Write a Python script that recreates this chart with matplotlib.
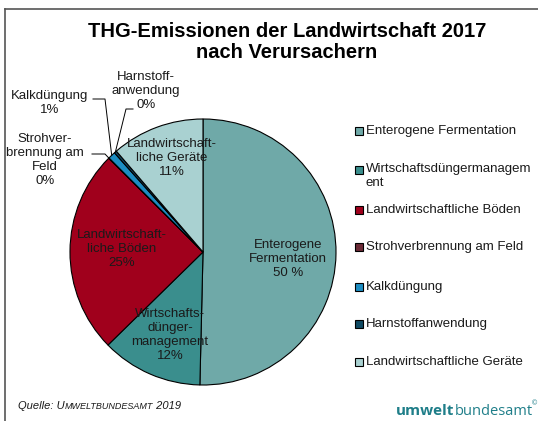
import matplotlib
matplotlib.use("Agg")
import matplotlib.pyplot as plt
from matplotlib.patches import Rectangle
from matplotlib.lines import Line2D
import numpy as np

plt.rcParams['font.family'] = ['Liberation Sans', 'DejaVu Sans']

categories = ["Enterogene Fermentation", "Wirtschaftsdüngermanagement",
              "Landwirtschaftliche Böden", "Strohverbrennung am Feld",
              "Kalkdüngung", "Harnstoffanwendung", "Landwirtschaftliche Geräte"]
values = [50.4, 12.3, 24.8, 0.05, 0.9, 0.3, 11.3]
colors = ["#6FA9A8", "#3A8E8D", "#A0001C", "#6B2A36", "#1C8DC2", "#0F4A63", "#A9D1D1"]
slice_labels = ["Enterogene\nFermentation\n50 %", "Wirtschafts-\ndünger-\nmanagement\n12%",
                "Landwirtschaft-\nliche Böden\n25%", "Strohver-\nbrennung am\nFeld\n0%",
                "Kalkdüngung\n1%", "Harnstoff-\nanwendung\n0%",
                "Landwirtschaft-\nliche Geräte\n11%"]
legend_labels = ["Enterogene Fermentation", "Wirtschaftsdüngermanagem\nent",
                 "Landwirtschaftliche Böden", "Strohverbrennung am Feld",
                 "Kalkdüngung", "Harnstoffanwendung", "Landwirtschaftliche Geräte"]

W, H = 538, 421
fig = plt.figure(figsize=(W / 100, H / 100), dpi=100)

def fx(x):
    return x / W

def fy(y):
    return 1 - y / H

# frame
fig.add_artist(Line2D([fx(5), fx(5)], [fy(9), fy(421)], color="#555555", lw=1.2))
fig.add_artist(Line2D([fx(5), fx(538)], [fy(9), fy(9)], color="#555555", lw=1.2))

# title
fig.text(fx(287), fy(42), "THG-Emissionen der Landwirtschaft 2017\nnach Verursachern",
         ha="center", va="center", fontsize=14.5, fontweight="bold", linespacing=1.15)

# pie
cx, cy, r = 203, 252, 133
ax = fig.add_axes([fx(cx - r), fy(cy + r), 2 * r / W, 2 * r / H])
wedges, _ = ax.pie(values, colors=colors, startangle=90, counterclock=False,
                   wedgeprops=dict(edgecolor="black", linewidth=0.8))
ax.set_xlim(-1, 1)
ax.set_ylim(-1, 1)
ax.set_aspect("auto")
ax.axis("off")

LFS = 9.5
LS = 1.2
# inside labels (figure pixel positions)
inside_pos = {0: (288, 259), 1: (170, 335), 2: (122, 249), 6: (172, 158)}
for i, (px, py) in inside_pos.items():
    fig.text(fx(px), fy(py), slice_labels[i], ha="center", va="center",
             fontsize=LFS, color="#1a1a1a", linespacing=LS)

# outside labels with leader lines
def wedge_point(i):
    w = wedges[i]
    a = np.deg2rad((w.theta1 + w.theta2) / 2)
    return np.cos(a), np.sin(a)

outside = {
    3: dict(text=(45, 160), bend=(105, 154), start=(92, 154)),
    4: dict(text=(50, 103), bend=(105, 99), start=(93, 99)),
    5: dict(text=(146, 91), bend=(126, 109), start=(133, 109)),
}
for i, d in outside.items():
    fig.text(fx(d["text"][0]), fy(d["text"][1]), slice_labels[i], ha="center", va="center",
             fontsize=LFS, color="#1a1a1a", linespacing=LS)
    wx, wy = wedge_point(i)
    disp = ax.transData.transform((wx, wy))
    fxy = fig.transFigure.inverted().transform(disp)
    fig.add_artist(Line2D([fx(d["start"][0]), fx(d["bend"][0]), fxy[0]],
                          [fy(d["start"][1]), fy(d["bend"][1]), fxy[1]],
                          color="black", lw=0.7))

# legend (manual)
leg_y = [131, 170, 210, 247, 287, 324, 362]
for lab, col, yy in zip(legend_labels, colors, leg_y):
    fig.add_artist(Rectangle((fx(355), fy(yy + 4)), 8 / W, 8 / H, transform=fig.transFigure,
                             facecolor=col, edgecolor="black", lw=0.8))
    if "\n" in lab:
        fig.text(fx(366), fy(yy - 7), lab, ha="left", va="top",
                 fontsize=LFS, color="#1a1a1a", linespacing=1.25)
    else:
        fig.text(fx(366), fy(yy), lab, ha="left", va="center",
                 fontsize=LFS, color="#1a1a1a")

# footer
renderer = fig.canvas.get_renderer()
parts = [("Quelle: U", 8.0), ("MWELTBUNDESAMT", 6.5), (" 2019", 8.0)]
x = fx(18)
for s, fs in parts:
    t = fig.text(x, fy(409), s, ha="left", va="baseline", fontsize=fs, style="italic", color="#1a1a1a")
    bb = t.get_window_extent(renderer)
    x += bb.width / W

t1 = fig.text(fx(396), fy(415), "umwelt", ha="left", va="baseline", fontsize=11,
              fontweight="bold", color="#1F7E89", family="Open Sans")
bb = t1.get_window_extent(renderer)
t2 = fig.text(fx(396) + bb.width / W, fy(415), "bundesamt", ha="left", va="baseline",
              fontsize=10.5, color="#1F7E89", family="Open Sans")
bb2 = t2.get_window_extent(renderer)
fig.text(bb2.x1 / W - 0.002, fy(405), "©", ha="left", va="baseline", fontsize=5, color="#1F7E89")

fig.savefig("out.png", dpi=100)
